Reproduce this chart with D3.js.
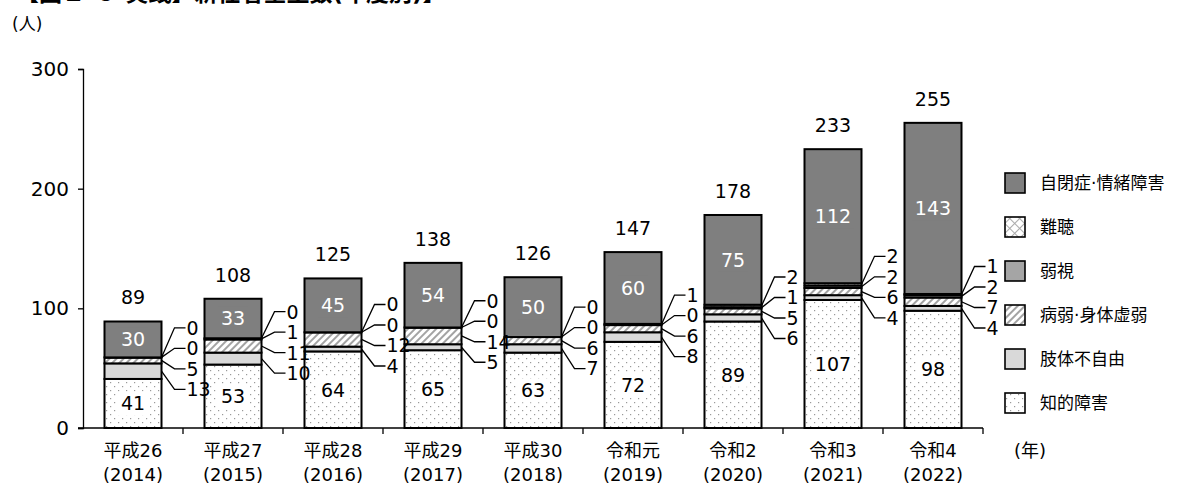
<!DOCTYPE html>
<html>
<head>
<meta charset="utf-8">
<script src="https://cdn.jsdelivr.net/npm/d3@7"></script>
<style>
  body { margin: 0; background: #fff; }
  svg { display: block; font-family: "DejaVu Sans", "Noto Sans CJK JP", sans-serif; }
</style>
</head>
<body>
<svg id="chart" width="1180" height="484"></svg>
<script>
// categories (era name / western year)
const eras = ["平成26", "平成27", "平成28", "平成29", "平成30", "令和元", "令和2", "令和3", "令和4"];
const years = ["(2014)", "(2015)", "(2016)", "(2017)", "(2018)", "(2019)", "(2020)", "(2021)", "(2022)"];

// series, bottom of the stack first
const chiteki = [41, 53, 64, 65, 63, 72, 89, 107, 98];   // 知的障害
const shitai  = [13, 10, 4, 5, 7, 8, 6, 4, 4];            // 肢体不自由
const byojaku = [5, 11, 12, 14, 6, 6, 5, 6, 7];           // 病弱・身体虚弱
const jakushi = [0, 1, 0, 0, 0, 0, 1, 2, 2];              // 弱視
const nancho  = [0, 0, 0, 0, 0, 1, 2, 2, 1];              // 難聴
const jihei   = [30, 33, 45, 54, 50, 60, 75, 112, 143];   // 自閉症・情緒障害

const seriesNames = ["知的障害", "肢体不自由", "病弱·身体虚弱", "弱視", "難聴", "自閉症·情緒障害"];
const yTicks = [0, 100, 200, 300];

let svg = d3.select("#chart");

let rows = eras.map(function (e, i) {
    return {
        era: e, year: years[i],
        "知的障害": chiteki[i], "肢体不自由": shitai[i], "病弱·身体虚弱": byojaku[i],
        "弱視": jakushi[i], "難聴": nancho[i], "自閉症·情緒障害": jihei[i]
    };
});

let x = d3.scaleBand().domain(eras).range([83, 983]).paddingInner(0.43).paddingOuter(0.215);
let y = d3.scaleLinear().domain([0, 300]).range([428, 69]);

// fills
let defs = svg.append("defs");
let pDots = defs.append("pattern").attr("id", "dots").attr("patternUnits", "userSpaceOnUse")
    .attr("width", 8).attr("height", 8);
pDots.append("rect").attr("width", 8).attr("height", 8).attr("fill", "#fff");
pDots.append("rect").attr("x", 2).attr("y", 2).attr("width", 1.2).attr("height", 1.2).attr("fill", "#999");
pDots.append("rect").attr("x", 6).attr("y", 6).attr("width", 1.2).attr("height", 1.2).attr("fill", "#999");

let pHatch = defs.append("pattern").attr("id", "hatch").attr("patternUnits", "userSpaceOnUse")
    .attr("width", 5).attr("height", 5).attr("patternTransform", "rotate(45)");
pHatch.append("rect").attr("width", 5).attr("height", 5).attr("fill", "#fff");
pHatch.append("line").attr("x1", 1).attr("y1", 0).attr("x2", 1).attr("y2", 5)
    .attr("stroke", "#8c8c8c").attr("stroke-width", 1.6);

let pCross = defs.append("pattern").attr("id", "cross").attr("patternUnits", "userSpaceOnUse")
    .attr("width", 7).attr("height", 7).attr("patternTransform", "rotate(45)");
pCross.append("rect").attr("width", 7).attr("height", 7).attr("fill", "#fff");
pCross.append("line").attr("x1", 0.5).attr("y1", 0).attr("x2", 0.5).attr("y2", 7)
    .attr("stroke", "#aaa").attr("stroke-width", 1);
pCross.append("line").attr("x1", 0).attr("y1", 0.5).attr("x2", 7).attr("y2", 0.5)
    .attr("stroke", "#aaa").attr("stroke-width", 1);

let fills = {
    "知的障害": "url(#dots)",
    "肢体不自由": "#d9d9d9",
    "病弱·身体虚弱": "url(#hatch)",
    "弱視": "#a5a5a5",
    "難聴": "url(#cross)",
    "自閉症·情緒障害": "#7f7f7f"
};

// title (clipped at the top edge as in the source)
svg.append("text").attr("x", 16).attr("y", 1)
    .attr("font-size", 23).attr("font-weight", "bold").attr("fill", "#000")
    .text("【図１-３ 実践】新任者全生数(年度別)】");

svg.append("text").attr("x", 12).attr("y", 30).attr("font-size", 17).text("(人)");

// axes
let yAxis = svg.append("g").attr("transform", "translate(83,0)")
    .call(d3.axisLeft(y).tickValues(yTicks).tickSize(5).tickPadding(9));
yAxis.select(".domain").attr("stroke", "#000").attr("stroke-width", 1.3);
yAxis.selectAll(".tick line").attr("stroke", "#000").attr("stroke-width", 1.3);
yAxis.selectAll(".tick text").attr("font-size", 20).attr("font-family", "DejaVu Sans").attr("fill", "#000");

let xLine = svg.append("g");
xLine.append("line").attr("x1", 78).attr("x2", x.range()[1]).attr("y1", y(0)).attr("y2", y(0))
    .attr("stroke", "#000").attr("stroke-width", 1.3);
let bounds = eras.map(function (e) { return x(e) - x.step() * x.paddingInner() / 2; })
    .concat([x.range()[1]]).slice(1);
xLine.selectAll(".xt").data(bounds).enter().append("line")
    .attr("x1", function (d) { return d; }).attr("x2", function (d) { return d; })
    .attr("y1", y(0)).attr("y2", y(0) + 6)
    .attr("stroke", "#000").attr("stroke-width", 1.3);

let xLab = svg.append("g").attr("font-size", 18).attr("text-anchor", "middle");
rows.forEach(function (r) {
    let cx = x(r.era) + x.bandwidth() / 2;
    xLab.append("text").attr("x", cx).attr("y", 457).text(r.era);
    xLab.append("text").attr("x", cx).attr("y", 481).text(r.year);
});
svg.append("text").attr("x", 1030).attr("y", 457).attr("font-size", 18).attr("text-anchor", "middle").text("(年)");

// stacked bars
let stack = d3.stack().keys(seriesNames)(rows);
let layers = svg.append("g").selectAll("g").data(stack).enter().append("g")
    .attr("fill", function (d) { return fills[d.key]; });
layers.selectAll("rect").data(function (d) { return d; }).enter().append("rect")
    .attr("x", function (d) { return x(d.data.era); })
    .attr("y", function (d) { return y(d[1]); })
    .attr("width", x.bandwidth())
    .attr("height", function (d) { return y(d[0]) - y(d[1]); })
    .attr("stroke", "#000").attr("stroke-width", 2);

// zero-height segments still show as a rule in the source
layers.selectAll("line.zero").data(function (d) { return d.filter(function (s) { return s[1] === s[0]; }); })
    .enter().append("line")
    .attr("x1", function (d) { return x(d.data.era); })
    .attr("x2", function (d) { return x(d.data.era) + x.bandwidth(); })
    .attr("y1", function (d) { return y(d[1]); }).attr("y2", function (d) { return y(d[1]); })
    .attr("stroke", "#000").attr("stroke-width", 2);

// inner labels: 知的障害 and 自閉症
let inner = svg.append("g").attr("text-anchor", "middle").attr("font-size", 19);
[[0, "#000", "#fff"], [5, "#fff", "#7f7f7f"]].forEach(function (cfg) {
    stack[cfg[0]].forEach(function (s) {
        let cx = x(s.data.era) + x.bandwidth() / 2;
        let cy = (y(s[0]) + y(s[1])) / 2;
        let v = s[1] - s[0];
        let w = String(v).length * 12 + 6;
        inner.append("rect").attr("x", cx - w / 2).attr("y", cy - 12).attr("width", w).attr("height", 24)
            .attr("fill", cfg[2]);
        inner.append("text").attr("x", cx).attr("y", cy).attr("dy", "0.36em").attr("fill", cfg[1]).text(v);
    });
});

// side labels for the small series with leader lines
let side = svg.append("g").attr("font-size", 19);
rows.forEach(function (r, i) {
    let right = x(r.era) + x.bandwidth();
    let segs = [4, 3, 2, 1].map(function (k) {
        let s = stack[k][i];
        return { v: s[1] - s[0], mid: (y(s[0]) + y(s[1])) / 2 };
    });
    let mean = d3.mean(segs, function (d) { return d.mid; }) - 3;
    segs.forEach(function (d, j) {
        let ly = mean + (j - 1.5) * 20.5;
        side.append("path")
            .attr("d", "M" + right + "," + d.mid + "L" + (right + 13) + "," + ly + "L" + (right + 24) + "," + ly)
            .attr("fill", "none").attr("stroke", "#000").attr("stroke-width", 1.3);
        side.append("text").attr("x", right + 25).attr("y", ly).attr("dy", "0.36em").text(d.v);
    });
});

// totals
svg.append("g").attr("text-anchor", "middle").attr("font-size", 19)
    .selectAll("text").data(stack[5]).enter().append("text")
    .attr("x", function (d) { return x(d.data.era) + x.bandwidth() / 2; })
    .attr("y", function (d) { return y(d[1]) - 17; })
    .text(function (d) { return d[1]; });

// legend
let legend = svg.append("g").attr("font-size", 17);
seriesNames.slice().reverse().forEach(function (name, i) {
    let ly = 183 + i * 44;
    legend.append("rect").attr("x", 1005).attr("y", ly - 10).attr("width", 20).attr("height", 20)
        .attr("fill", fills[name]).attr("stroke", "#000").attr("stroke-width", 1.6);
    legend.append("text").attr("x", 1040).attr("y", ly).attr("dy", "0.36em").text(name);
});
</script>
</body>
</html>
